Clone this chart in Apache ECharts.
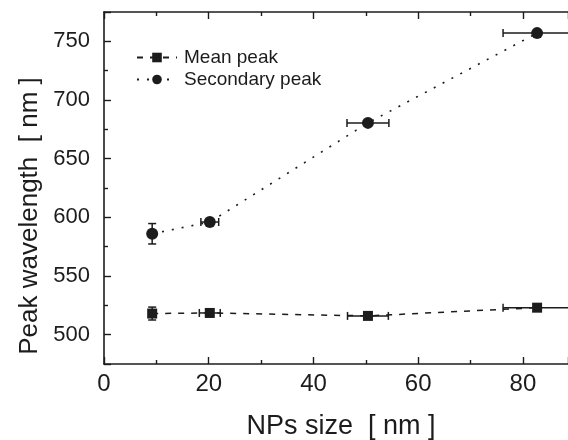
<!DOCTYPE html>
<html>
<head>
<meta charset="utf-8">
<script src="https://cdn.jsdelivr.net/npm/echarts@6/dist/echarts.min.js"></script>
<style>html,body{margin:0;padding:0;background:#fff}#c{width:568px;height:440px}</style>
</head>
<body>
<div id="c"></div>
<script>
// NP sizes (nm) and their x errors
const sizes = [9.2, 20.2, 50.4, 82.7];
const meanPeak = [518, 518.5, 516, 523];
const meanErrX = [0, 2, 3.9, 6.5];
const meanErrY = [5.5, 0, 0, 0];
const secondaryPeak = [586, 596, 680.5, 757];
const secErrX = [0, 1.7, 4, 6.5];
const secErrY = [8.7, 0, 0, 0];
const seriesNames = ['Mean peak', 'Secondary peak'];
const xTitle = 'NPs size  [ nm ]';
const yTitle = 'Peak wavelength  [ nm ]';

const INK = '#1c1c1c';
const FONT = '"Liberation Sans", Arial, sans-serif';

function errRender(params, api) {
  const x = api.value(0), y = api.value(1);
  const xe = api.value(2), ye = api.value(3);
  const cap = 4;
  const style = { stroke: INK, lineWidth: 1.5, fill: null };
  const ch = [];
  if (xe > 0) {
    const a = api.coord([x - xe, y]), b = api.coord([x + xe, y]);
    ch.push({ type: 'line', shape: { x1: a[0], y1: a[1], x2: b[0], y2: b[1] }, style });
    ch.push({ type: 'line', shape: { x1: a[0], y1: a[1] - cap, x2: a[0], y2: a[1] + cap }, style });
    ch.push({ type: 'line', shape: { x1: b[0], y1: b[1] - cap, x2: b[0], y2: b[1] + cap }, style });
  }
  if (ye > 0) {
    const a = api.coord([x, y - ye]), b = api.coord([x, y + ye]);
    ch.push({ type: 'line', shape: { x1: a[0], y1: a[1], x2: b[0], y2: b[1] }, style });
    ch.push({ type: 'line', shape: { x1: a[0] - cap, y1: a[1], x2: a[0] + cap, y2: a[1] }, style });
    ch.push({ type: 'line', shape: { x1: b[0] - cap, y1: b[1], x2: b[0] + cap, y2: b[1] }, style });
  }
  return { type: 'group', children: ch };
}

const meanErrData = sizes.map((s, i) => [s, meanPeak[i], meanErrX[i], meanErrY[i]]);
const secErrData = sizes.map((s, i) => [s, secondaryPeak[i], secErrX[i], secErrY[i]]);

const chart = echarts.init(document.getElementById('c'), null, { renderer: 'canvas' });
const xCommon = {
  type: 'value', min: 0, max: 88.6, interval: 20,
  axisLine: { lineStyle: { color: INK, width: 1.6 } },
  axisTick: { inside: true, length: 7, lineStyle: { color: INK, width: 1.4 } },
  minorTick: { show: true, splitNumber: 2, length: 4, lineStyle: { color: INK, width: 1.4 } },
  splitLine: { show: false }
};
chart.setOption({
  animation: false,
  backgroundColor: '#fff',
  grid: { left: 104, right: 0, top: 12, bottom: 76, containLabel: false, outerBoundsMode: 'none' },
  legend: {
    data: seriesNames, orient: 'vertical', left: 131, top: 43,
    itemWidth: 40, itemHeight: 12, itemGap: 3,
    textStyle: { fontFamily: FONT, fontSize: 19, color: INK, padding: [0, 0, 0, 2] }
  },
  xAxis: [
    Object.assign({}, xCommon, {
      position: 'bottom',
      name: xTitle, nameLocation: 'middle', nameGap: 49,
      nameTextStyle: { fontFamily: FONT, fontSize: 27, color: INK, padding: [0, 0, 0, 10] },
      axisLabel: {
        margin: 8, fontFamily: FONT, fontSize: 24, color: INK,
        formatter: v => (Math.abs(v % 20) < 1e-6 ? String(v) : '')
      }
    }),
    Object.assign({}, xCommon, { position: 'top', axisLabel: { show: false } })
  ],
  yAxis: {
    type: 'value', min: 475, max: 775, splitNumber: 6,
    name: yTitle, nameLocation: 'middle', nameGap: 61,
    nameTextStyle: { fontFamily: FONT, fontSize: 26, color: INK, padding: [0, 56, 0, 0] },
    axisLine: { show: true, lineStyle: { color: INK, width: 1.6 } },
    axisTick: { inside: true, length: 7, lineStyle: { color: INK, width: 1.4 } },
    minorTick: { show: true, splitNumber: 2, length: 4, lineStyle: { color: INK, width: 1.4 } },
    splitLine: { show: false },
    axisLabel: {
      margin: 14, fontFamily: FONT, fontSize: 22, color: INK,
      formatter: v => (Math.abs(v % 50) < 1e-6 ? String(v) : '')
    }
  },
  series: [
    {
      type: 'custom', name: 'meanErr', renderItem: errRender, data: meanErrData,
      encode: { x: 0, y: 1 }, z: 1, silent: true
    },
    {
      type: 'custom', name: 'secErr', renderItem: errRender, data: secErrData,
      encode: { x: 0, y: 1 }, z: 1, silent: true
    },
    {
      type: 'line', name: seriesNames[0], z: 3,
      data: sizes.map((s, i) => [s, meanPeak[i]]),
      symbol: 'rect', symbolSize: 10, showAllSymbol: true,
      lineStyle: { color: INK, width: 1.5, type: [6, 7] },
      itemStyle: { color: INK, borderWidth: 0 }
    },
    {
      type: 'line', name: seriesNames[1], z: 3,
      data: sizes.map((s, i) => [s, secondaryPeak[i]]),
      symbol: 'circle', symbolSize: 12, showAllSymbol: true,
      lineStyle: { color: INK, width: 1.6, type: [2, 8] },
      itemStyle: { color: INK, borderWidth: 0 }
    }
  ]
});
</script>
</body>
</html>
